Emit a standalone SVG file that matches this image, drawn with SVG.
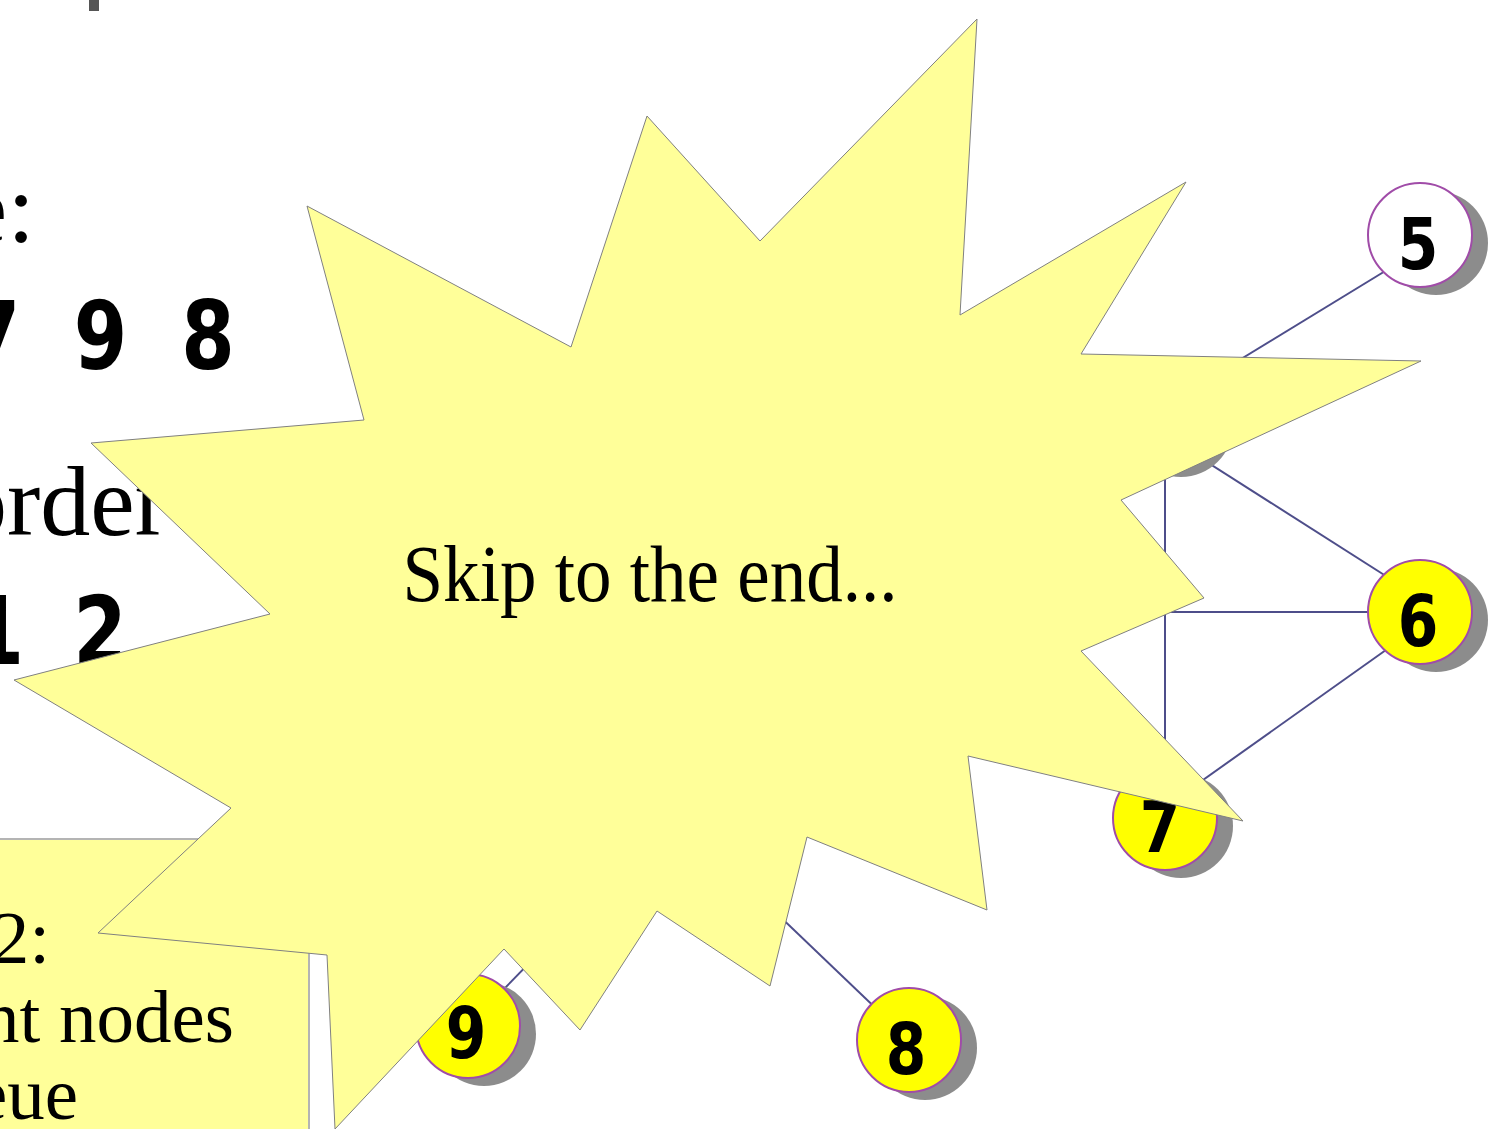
<svg xmlns="http://www.w3.org/2000/svg" width="1504" height="1129" viewBox="0 0 1504 1129">
<style>
.serif{font-family:"Liberation Serif","DejaVu Serif",serif;fill:#000}
.num{font-family:"DejaVu Sans Condensed","DejaVu Sans",sans-serif;font-stretch:condensed;font-weight:bold;fill:#000;text-anchor:middle}
.edge{stroke:#4e4e8a;stroke-width:2;fill:none}
.shadow{fill:#8c8c8c}
.node{stroke:#a04ca8;stroke-width:2}
.yel{fill:#ffff00}
.wht{fill:#ffffff}
.star{fill:#ffff99;stroke:#808080;stroke-width:1}
</style>
<rect width="1504" height="1129" fill="#ffffff"/>
<g id="background-text">
<rect x="89" y="0" width="10" height="11" fill="#555555"/>
<text class="serif" x="35" y="242" font-size="100" text-anchor="end">e:</text>
<text class="num" y="369" font-size="95" transform="scale(0.9 1)"><tspan x="-7.2">7</tspan><tspan x="111.7">9</tspan><tspan x="231.1">8</tspan></text>
<text class="serif" x="-43" y="535" font-size="100">order</text>
<text class="num" y="664" font-size="95" transform="scale(0.9 1)"><tspan x="-3">1</tspan><tspan x="111.1">2</tspan></text>
</g>
<g id="step-box">
<rect x="-10" y="839" width="319" height="310" fill="#ffff99" stroke="#b4b4b4" stroke-width="2"/>
<text class="serif" x="50" y="963" font-size="75" text-anchor="end">2:</text>
<text class="serif" x="234" y="1042" font-size="75" text-anchor="end">nt nodes</text>
<text class="serif" x="78" y="1119" font-size="75" text-anchor="end">eue</text>
</g>
<g id="connectors">
<line class="edge" x1="1141" y1="420" x2="1400" y2="262"/>
<line class="edge" x1="1141" y1="420" x2="1400" y2="585"/>
<line class="edge" x1="1165" y1="417" x2="1165" y2="818"/>
<line class="edge" x1="900" y1="612" x2="1400" y2="612"/>
<line class="edge" x1="1165" y1="807" x2="1400" y2="640"/>
<line class="edge" x1="468" y1="1026" x2="610" y2="880"/>
<line class="edge" x1="909" y1="1040" x2="700" y2="840"/>
</g>
<g id="node4">
<circle class="shadow" cx="1181" cy="425" r="52"/>
<circle class="node wht" cx="1165" cy="417" r="52"/>
</g>
<g id="node5">
<circle class="shadow" cx="1436" cy="243" r="52"/>
<circle class="node wht" cx="1420" cy="235" r="52"/>
<text class="num" x="1575.5" y="269" font-size="72" transform="scale(0.9 1)">5</text>
</g>
<g id="node6">
<circle class="shadow" cx="1436" cy="620" r="52"/>
<circle class="node yel" cx="1420" cy="612" r="52"/>
<text class="num" x="1575.5" y="646" font-size="72" transform="scale(0.9 1)">6</text>
</g>
<g id="node7">
<circle class="shadow" cx="1181" cy="826" r="52"/>
<circle class="node yel" cx="1165" cy="818" r="52"/>
<text class="num" x="1289" y="852" font-size="72" transform="scale(0.9 1)">7</text>
</g>
<g id="node9">
<circle class="shadow" cx="484" cy="1034" r="52"/>
<circle class="node yel" cx="468" cy="1026" r="52"/>
<text class="num" x="517.8" y="1058" font-size="72" transform="scale(0.9 1)">9</text>
</g>
<g id="node8">
<circle class="shadow" cx="925" cy="1048" r="52"/>
<circle class="node yel" cx="909" cy="1040" r="52"/>
<text class="num" x="1006.7" y="1074" font-size="72" transform="scale(0.9 1)">8</text>
</g>
<g id="starburst">
<polygon class="star" points="977,19 960,315 1186,182 1081,354 1421,361 1121,500 1204,598 1081,651 1243,821 968,756 987,910 807,837 770,986 657,911 580,1030 504,949 335,1129 327,955 98,933 231,808 14,680 270,614 91,443 364,420 307,206 571,347 647,116 760,241"/>
<text class="serif" x="650" y="601" font-size="80" text-anchor="middle" textLength="495" lengthAdjust="spacingAndGlyphs">Skip to the end...</text>
</g>
</svg>
